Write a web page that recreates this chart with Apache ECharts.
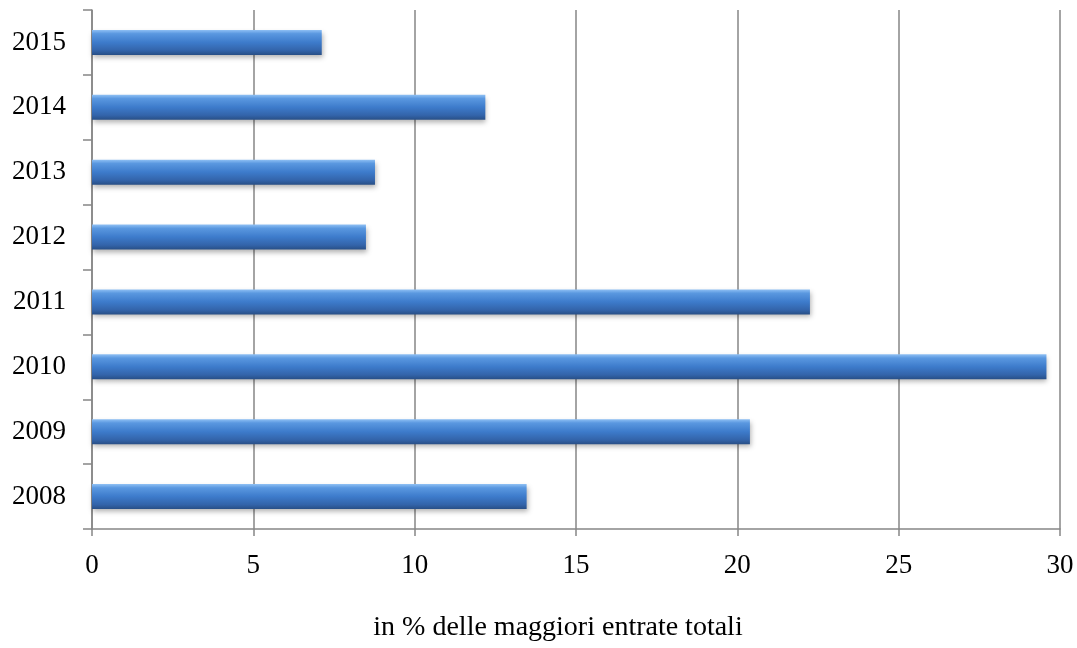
<!DOCTYPE html>
<html>
<head>
<meta charset="utf-8">
<script src="https://cdn.jsdelivr.net/npm/echarts@6/dist/echarts.min.js"></script>
<style>
html,body{margin:0;padding:0;background:#fff;}
#chart{width:1077px;height:648px;}
</style>
</head>
<body>
<div id="chart"></div>
<script>
var categories = ['2008','2009','2010','2011','2012','2013','2014','2015'];
var values = [13.47, 20.39, 29.58, 22.25, 8.49, 8.77, 12.19, 7.12];
var xTicks = [0, 5, 10, 15, 20, 25, 30];
var axisName = 'in % delle maggiori entrate totali';

var chart = echarts.init(document.getElementById('chart'), null, {renderer:'canvas'});
var font = '"Liberation Serif", "Times New Roman", serif';
chart.setOption({
  animation: false,
  backgroundColor: '#ffffff',
  grid: {left: 92, right: 17, top: 10, bottom: 119, containLabel: false},
  xAxis: {
    type: 'value',
    min: xTicks[0],
    max: xTicks[xTicks.length-1],
    interval: 5,
    name: axisName,
    nameLocation: 'middle',
    nameGap: 85,
    nameTextStyle: {fontFamily: font, fontSize: 28, color: '#000', padding: [0, 36, 0, 0]},
    axisLine: {show: true, lineStyle: {color: '#868686', width: 1.5}},
    axisTick: {show: true, length: 7, lineStyle: {color: '#868686', width: 1.5}},
    axisLabel: {fontFamily: font, fontSize: 27, color: '#000', margin: 23},
    splitLine: {show: true, lineStyle: {color: '#868686', width: 1.5}}
  },
  yAxis: {
    type: 'category',
    data: categories,
    axisLine: {show: true, lineStyle: {color: '#868686', width: 1.5}},
    axisTick: {show: true, length: 9, lineStyle: {color: '#868686', width: 1.5}},
    axisLabel: {fontFamily: font, fontSize: 27, color: '#000', margin: 26},
    splitLine: {show: false}
  },
  series: [{
    type: 'bar',
    data: values,
    barWidth: 25,
    itemStyle: {
      color: new echarts.graphic.LinearGradient(0, 0, 0, 1, [
        {offset: 0, color: '#8fc0f4'},
        {offset: 0.15, color: '#5a98e0'},
        {offset: 0.5, color: '#3d7bcb'},
        {offset: 0.82, color: '#3364aa'},
        {offset: 1, color: '#284f86'}
      ]),
      shadowColor: 'rgba(0,0,0,0.3)',
      shadowBlur: 5,
      shadowOffsetX: 1,
      shadowOffsetY: 3
    }
  }]
});
</script>
</body>
</html>
